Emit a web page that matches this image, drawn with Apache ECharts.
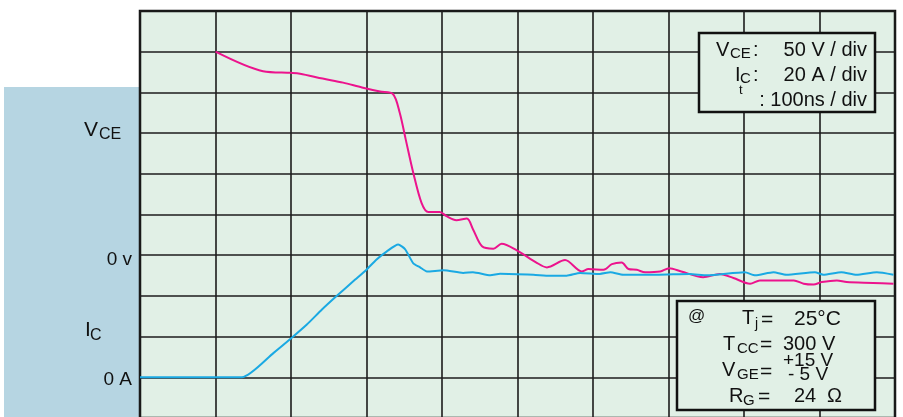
<!DOCTYPE html>
<head>
    <meta charset="utf-8">
    <title>IGBT turn-off waveform</title>
    <style>
        body { margin: 0; background: #fff; }
    </style>
</head>
<body>
<div id="main" style="width:903px;height:417px"></div>
<script src="https://cdn.jsdelivr.net/npm/echarts@6/dist/echarts.min.js"></script>
<script type="text/javascript">
    // time in ns (100 ns / div), VCE in V (50 V / div), IC in A (20 A / div)
    var vceTime = [100,163,200,212,242,269,294,318,335,344,352,362,373,382,397,406,419,433,441,453,
        468,479,499,525,539,563,585,594,614,625,638,647,658,669,689,701,717,746,768,786,
        808,821,861,866,879,892,903,923,936,971,998];
    var vceVolts = [250,226,224,223,217,212,206,201,198,175,142,101,64,53,53,48,43,45,32,11,
        8,14,6,-9,-15,-6,-20,-17,-18,-11,-9,-17,-18,-21,-20,-16,-20,-27,-23,-28,
        -35,-31,-31,-31,-35,-36,-33,-31,-33,-34,-35];

    var icTime = [0,135,177,201,221,241,260,285,300,313,327,342,351,362,371,380,
        402,428,441,464,477,521,543,565,583,609,623,640,684,728,751,801,815,839,856,894,
        905,929,949,976,998];
    var icAmps = [0,0,12,19.4,25.9,33.3,39.8,48,52.9,57.8,61.9,65.2,63,56,54,52,
        52.6,51.3,51.6,50.1,50.9,50.4,49.9,49.9,51.3,50.8,51.6,50.4,50.4,50.8,50.1,51.6,50.1,51.6,50.4,51.6,
        50.4,51.6,50.4,51.6,50.4];

    // tick labels shown on the left axis
    var vceTickLabels = {0: '0 v'};
    var icTickLabels = {0: '0 A'};

    var plotBg = '#e1f0e6';
    var sans = 'Liberation Sans, Arial, sans-serif';

    function pairs(xs, ys) {
        return xs.map(function (x, i) { return [x, ys[i]]; });
    }

    function txt(x, y, text, size, align) {
        return {
            type: 'text', x: x, y: y, z: 100,
            style: {
                text: text, font: size + 'px ' + sans, fill: '#111',
                align: align || 'left', verticalAlign: 'middle'
            }
        };
    }

    var myChart = echarts.init(document.getElementById('main'));
    myChart.setOption({
        animation: false,
        grid: {
            left: 140, top: 11, width: 755, height: 407,
            show: true, backgroundColor: plotBg,
            borderColor: '#111', borderWidth: 2.5,
            outerBoundsMode: 'none'
        },
        xAxis: {
            type: 'value', min: 0, max: 1000, interval: 100,
            axisLabel: {show: false}, axisTick: {show: false}, axisLine: {show: false},
            splitLine: {lineStyle: {color: '#1c1c1c', width: 1.6}}
        },
        yAxis: [{
            type: 'value', min: -200, max: 300, interval: 50,
            axisTick: {show: false}, axisLine: {show: false},
            splitLine: {lineStyle: {color: '#1c1c1c', width: 1.6}},
            axisLabel: {
                margin: 8,
                formatter: function (v) { return vceTickLabels[v] ? '{a|' + vceTickLabels[v] + '}' : ''; },
                rich: {a: {color: '#111', fontSize: 19, fontFamily: sans, padding: [9, 0, 0, 0]}}
            }
        }, {
            type: 'value', min: -20, max: 180, interval: 20, position: 'left',
            axisTick: {show: false}, axisLine: {show: false}, splitLine: {show: false},
            axisLabel: {
                margin: 8,
                formatter: function (v) { return icTickLabels[v] ? '{a|' + icTickLabels[v] + '}' : ''; },
                rich: {a: {color: '#111', fontSize: 19, fontFamily: sans, padding: [4, 0, 0, 0]}}
            }
        }],
        graphic: [
            // blue side panel
            {type: 'rect', z: -10, shape: {x: 4, y: 87, width: 136, height: 330}, style: {fill: '#b6d5e2'}},
            // channel names
            txt(84, 130.5, 'V', 21), txt(99, 134.5, 'CE', 16),
            txt(85, 330, 'I', 21), txt(90, 335.5, 'C', 16),
            // scale box
            {type: 'rect', z: 99, shape: {x: 699, y: 33, width: 176, height: 79},
                style: {fill: plotBg, stroke: '#111', lineWidth: 2.5}},
            txt(716, 50, 'V', 20), txt(730, 53.5, 'CE', 15), txt(753, 50, ':', 20),
            txt(867, 50, '50 V / div', 20, 'right'),
            txt(735, 75, 'I', 20), txt(740, 78.5, 'C', 15), txt(753, 75, ':', 20),
            txt(867, 75, '20 A / div', 20, 'right'),
            txt(739, 90, 't', 13),
            txt(867, 100, ': 100ns / div', 20, 'right'),
            // conditions box
            {type: 'rect', z: 99, shape: {x: 677, y: 301, width: 198, height: 109},
                style: {fill: plotBg, stroke: '#111', lineWidth: 2.5}},
            txt(688, 316.5, '@', 17),
            txt(742, 318.5, 'T', 20), txt(755, 324, 'j', 14), txt(761, 320, '=', 21),
            txt(794, 319, '25\u00b0C', 21),
            txt(723, 344.5, 'T', 20), txt(737, 348.5, 'CC', 15), txt(760, 345.5, '=', 21),
            txt(783, 344.5, '300 V', 20),
            txt(722, 370.5, 'V', 20), txt(737, 374.5, 'GE', 15), txt(760, 372, '=', 21),
            txt(783, 361, '+15 V', 19),
            txt(788, 374.5, '- 5 V', 19),
            txt(729, 396.5, 'R', 20), txt(743, 400.5, 'G', 15), txt(758, 397.5, '=', 21),
            txt(794, 396.5, '24', 20), txt(827, 396.5, '\u03a9', 20)
        ],
        series: [{
            name: 'VCE', type: 'line', yAxisIndex: 0, symbol: 'none', smooth: 0.3,
            lineStyle: {color: '#ec138d', width: 2},
            data: pairs(vceTime, vceVolts)
        }, {
            name: 'IC', type: 'line', yAxisIndex: 1, symbol: 'none', smooth: 0.2,
            lineStyle: {color: '#1aa9e3', width: 2},
            data: pairs(icTime, icAmps)
        }]
    });
</script>
</body>
